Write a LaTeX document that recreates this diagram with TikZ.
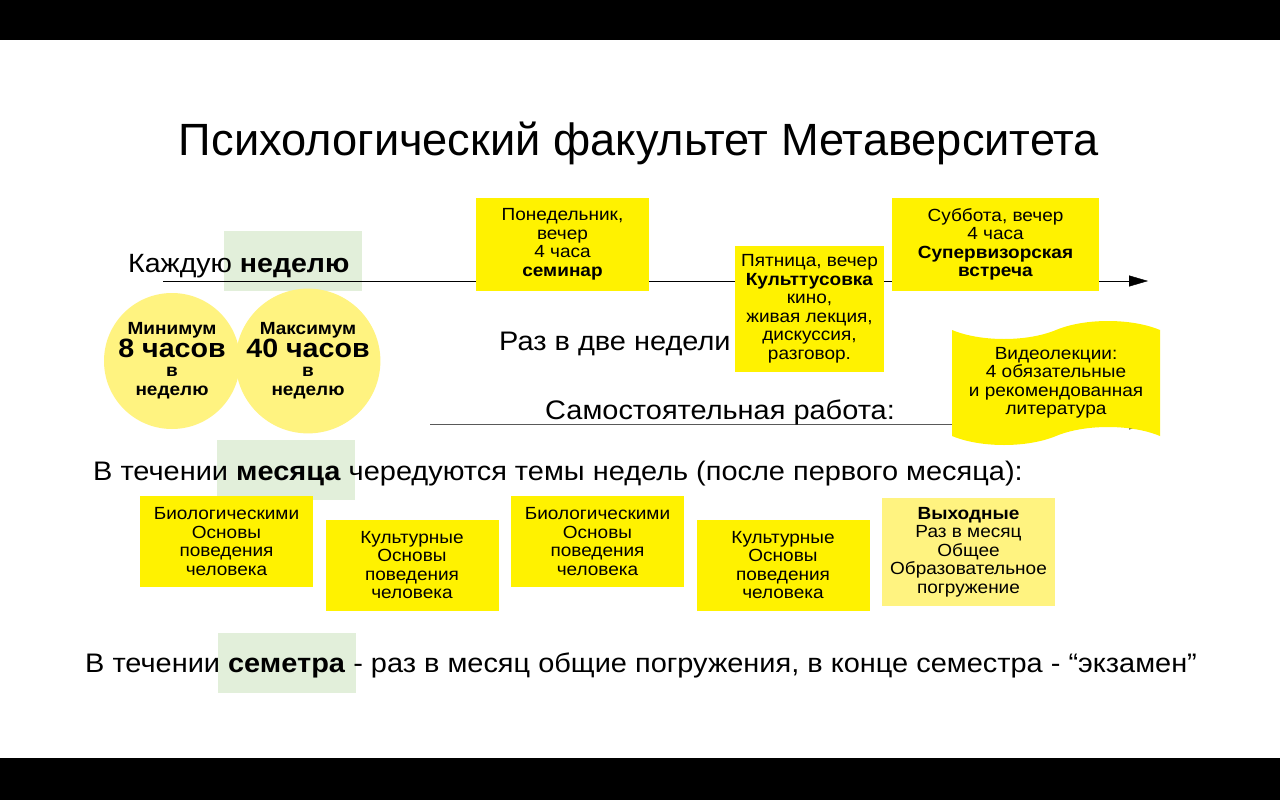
\documentclass[tikz,border=0pt]{standalone}
\usepackage{fontspec}
\setmainfont{Liberation Sans}[FakeStretch=1.08]
\newfontfamily\titlefont{Liberation Sans}
\usetikzlibrary{arrows.meta,shapes.symbols}
\definecolor{dayyellow}{RGB}{255,242,0}
\definecolor{paleyellow}{RGB}{255,243,128}
\definecolor{hlgreen}{RGB}{226,239,218}
\begin{document}
\begin{tikzpicture}[x=1pt,y=-1pt,
    daybox/.style={fill=dayyellow,align=center,inner sep=0pt,font=\fontsize{17.6}{18.5}\selectfont},
    hourdisc/.style={circle,fill=paleyellow,align=center,inner sep=0pt,font=\bfseries\fontsize{17.6}{19}\selectfont},
    hlbox/.style={fill=hlgreen,minimum width=138pt,minimum height=60pt,inner sep=0pt},
    bigtext/.style={font=\fontsize{26.8}{30}\selectfont,inner sep=0pt},
    timeline/.style={-{Triangle[length=19pt,width=11pt]}}]
  \fill[black] (0,0) rectangle (1280,800);
  \fill[white] (0,40) rectangle (1280,758);
  \node[font=\titlefont\fontsize{45.2}{50}\selectfont,inner sep=0pt,anchor=base] (title) at (639,155) {Психологический факультет Метаверситета};
  \node[hlbox] (hlweek) at (293,261) {};
  \node[hlbox] (hlmonth) at (286,470) {};
  \node[hlbox] (hlterm) at (287,663) {};
  \node[bigtext,font=\fontsize{26.4}{30}\selectfont,anchor=base west] (week) at (128,272) {Каждую \textbf{неделю}};
  \coordinate (weekstart) at (163,281);
  \coordinate (weekend) at (1148,281);
  \draw[timeline] (weekstart) -- (weekend);
  \coordinate (selfstart) at (430,424);
  \coordinate (selfend) at (1148,424);
  \draw[timeline,black!65] (selfstart) -- (selfend);
  \node[daybox,minimum width=173pt,minimum height=93pt] (monday) at (562.5,244.5) {Понедельник,\\вечер\\4 часа\\\textbf{семинар}};
  \node[daybox,minimum width=149pt,minimum height=126pt] (friday) at (809.5,309) {Пятница, вечер\\\textbf{Культтусовка}\\кино,\\живая лекция,\\дискуссия,\\разговор.};
  \node[daybox,minimum width=207pt,minimum height=93pt] (saturday) at (995.5,244.5) {Суббота, вечер\\4 часа\\\textbf{Супервизорская}\\\textbf{встреча}};
  \node[hourdisc,minimum size=136pt] (minhours) at (172,361) {Минимум\\{\fontsize{26.5}{24}\selectfont 8 часов}\\в\\неделю};
  \node[hourdisc,minimum size=139pt] (maxhours) at (308,361) {Максимум\\{\fontsize{26.5}{24}\selectfont 40 часов}\\в\\неделю};
  \node[bigtext,anchor=base west] (biweek) at (499,350) {Раз в две недели};
  \node[bigtext,anchor=base west] (selfwork) at (545,419) {Самостоятельная работа:};
  \node[tape,fill=dayyellow,align=center,inner sep=0pt,minimum width=208pt,minimum height=124pt,tape bend height=18pt,font=\fontsize{17.6}{18.5}\selectfont] (videos) at (1056,383) {Видеолекции:\\4 обязательные\\и рекомендованная\\литература};
  \node[bigtext,anchor=base west] (month) at (93,480) {В течении \textbf{месяца} чередуются темы недель (после первого месяца):};
  \node[daybox,minimum width=173pt,minimum height=91pt] (bio1) at (226.5,541.5) {Биологическими\\Основы\\поведения\\человека};
  \node[daybox,minimum width=173pt,minimum height=91pt] (cult1) at (412,565) {Культурные\\Основы\\поведения\\человека};
  \node[daybox,minimum width=173pt,minimum height=91pt] (bio2) at (597.5,541.5) {Биологическими\\Основы\\поведения\\человека};
  \node[daybox,minimum width=173pt,minimum height=91pt] (cult2) at (783,565) {Культурные\\Основы\\поведения\\человека};
  \node[daybox,fill=paleyellow,minimum width=173pt,minimum height=108pt] (weekend) at (968.5,552) {\textbf{Выходные}\\Раз в месяц\\Общее\\Образовательное\\погружение};
  \node[bigtext,anchor=base west] (term) at (85,672) {В течении \textbf{семетра} - раз в месяц общие погружения, в конце семестра - “экзамен”};
\end{tikzpicture}
\end{document}
